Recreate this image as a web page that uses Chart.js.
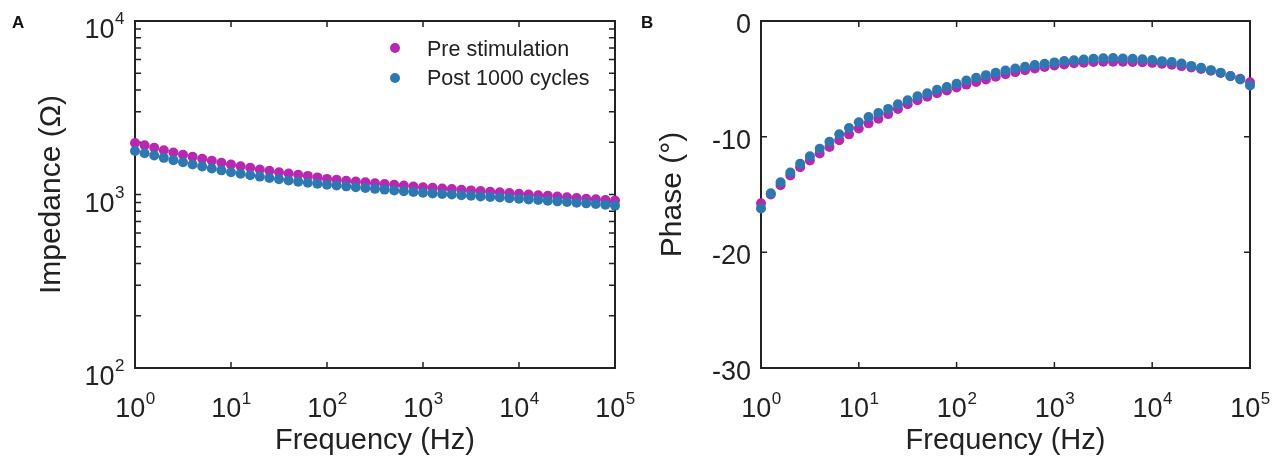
<!DOCTYPE html>
<html>
<head>
<meta charset="utf-8">
<script src="https://cdn.jsdelivr.net/npm/chart.js@4.4.0/dist/chart.umd.min.js"></script>
<style>
  body { margin: 0; background: #fff; font-family: "Liberation Sans", Arial, sans-serif; }
  #wrap { position: relative; width: 1274px; height: 470px; overflow: hidden; }
  .panel { position: absolute; top: 0; height: 470px; }
  .tag { position: absolute; font-weight: bold; font-size: 17px; color: #111; }
  .leg { position: absolute; font-size: 21.5px; color: #222; line-height: 24px; }
  .dot { position: absolute; width: 10px; height: 10px; border-radius: 50%; }
</style>
</head>
<body>
<div id="wrap">
  <div class="panel" style="left:0;width:640px"><canvas id="impChart" width="640" height="470"></canvas></div>
  <div class="panel" style="left:640px;width:634px"><canvas id="phaseChart" width="634" height="470"></canvas></div>
  <div class="tag" style="left:12px;top:13px">A</div>
  <div class="tag" style="left:641px;top:13px">B</div>
  <div class="dot" style="left:390px;top:43px;background:#B927B1"></div>
  <div class="leg" style="left:427px;top:37px">Pre stimulation</div>
  <div class="dot" style="left:390px;top:73px;background:#2E78B2"></div>
  <div class="leg" style="left:427px;top:66px">Post 1000 cycles</div>
</div>
<script>
const freq = [1, 1.259, 1.585, 1.995, 2.512, 3.162, 3.981, 5.012, 6.31, 7.943,
  10, 12.59, 15.85, 19.95, 25.12, 31.62, 39.81, 50.12, 63.1, 79.43,
  100, 125.9, 158.5, 199.5, 251.2, 316.2, 398.1, 501.2, 631, 794.3,
  1000, 1259, 1585, 1995, 2512, 3162, 3981, 5012, 6310, 7943,
  10000, 12589, 15849, 19953, 25119, 31623, 39811, 50119, 63096, 79433, 100000];

const impPre = [1980, 1920, 1860, 1800, 1745, 1695, 1650, 1605, 1565, 1525,
  1490, 1455, 1425, 1395, 1370, 1345, 1320, 1300, 1280, 1255,
  1230, 1215, 1200, 1188, 1175, 1162, 1150, 1138, 1126, 1113,
  1100, 1092, 1083, 1074, 1065, 1056, 1047, 1038, 1029, 1020,
  1010, 1000, 991, 982, 973, 964, 955, 946, 938, 930, 923];

const impPost = [1780, 1728, 1676, 1626, 1578, 1533, 1490, 1450, 1413, 1378,
  1345, 1318, 1292, 1268, 1245, 1224, 1204, 1186, 1170, 1155,
  1140, 1127, 1114, 1102, 1090, 1078, 1067, 1056, 1045, 1034,
  1023, 1015, 1007, 999, 991, 983, 975, 968, 960, 952,
  945, 937, 929, 921, 913, 905, 897, 889, 881, 872, 863];

const phasePre = [-15.75, -15.0, -14.2, -13.35, -12.65, -12.05, -11.45, -10.9, -10.3, -9.8,
  -9.3, -8.85, -8.45, -8.05, -7.6, -7.2, -6.85, -6.55, -6.25, -6.0,
  -5.75, -5.5, -5.27, -5.05, -4.82, -4.6, -4.42, -4.25, -4.1, -3.97,
  -3.85, -3.75, -3.66, -3.6, -3.55, -3.52, -3.52, -3.53, -3.55, -3.57,
  -3.62, -3.7, -3.78, -3.9, -4.02, -4.15, -4.3, -4.5, -4.75, -5.0, -5.3];

const phasePost = [-16.2, -14.9, -13.95, -13.1, -12.35, -11.7, -11.05, -10.45, -9.8, -9.25,
  -8.75, -8.3, -7.95, -7.6, -7.2, -6.85, -6.5, -6.25, -5.95, -5.7,
  -5.42, -5.15, -4.9, -4.68, -4.47, -4.28, -4.1, -3.95, -3.8, -3.7,
  -3.58, -3.46, -3.4, -3.33, -3.27, -3.23, -3.2, -3.24, -3.27, -3.3,
  -3.37, -3.47, -3.55, -3.68, -3.88, -4.05, -4.25, -4.48, -4.77, -5.06, -5.58];

const freqTicks = [1, 10, 100, 1000, 10000, 100000];
const freqTickExp = ['0', '1', '2', '3', '4', '5'];
const impTicks = [100, 1000, 10000];
const impTickExp = ['2', '3', '4'];
const impMinorTicks = [200, 300, 400, 500, 600, 700, 800, 900, 2000, 3000, 4000, 5000, 6000, 7000, 8000, 9000];
const phaseTicks = [-30, -20, -10, 0];
const phaseTickLabels = ['-30', '-20', '-10', '0'];

const PINK = '#B927B1';
const BLUE = '#2E78B2';
const INK = '#222';
const FONT = '"Liberation Sans", Arial, sans-serif';
const BASE_FONT = '27px ' + FONT;
const SUP_FONT = '17px ' + FONT;

// "10" with a raised exponent
function drawPow(ctx, exp, x, baseY, supY, align) {
  ctx.font = BASE_FONT;
  const wb = ctx.measureText('10').width;
  ctx.font = SUP_FONT;
  const we = ctx.measureText(exp).width;
  const left = align === 'center' ? x - (wb + we) / 2 : x - wb - we;
  ctx.font = BASE_FONT;
  ctx.fillText('10', left, baseY);
  ctx.font = SUP_FONT;
  ctx.fillText(exp, left + wb + 0.5, supY);
}

// box round the plot + inward tick marks (under the points), tick labels after
const framePlugin = {
  id: 'frame',
  beforeDatasetsDraw(chart, args, opts) {
    const { ctx, chartArea: a, scales: { x, y } } = chart;
    const len = 6;
    ctx.save();
    ctx.strokeStyle = INK;
    ctx.lineWidth = 1.5;
    ctx.beginPath();
    opts.xTicks.forEach(v => {
      const px = x.getPixelForValue(v);
      ctx.moveTo(px, a.bottom); ctx.lineTo(px, a.bottom - len);
      ctx.moveTo(px, a.top); ctx.lineTo(px, a.top + len);
    });
    opts.yTicks.forEach(v => {
      const py = y.getPixelForValue(v);
      ctx.moveTo(a.left, py); ctx.lineTo(a.left + len, py);
      ctx.moveTo(a.right, py); ctx.lineTo(a.right - len, py);
    });
    ctx.stroke();
    ctx.lineWidth = 2;
    ctx.strokeRect(a.left, a.top, a.right - a.left, a.bottom - a.top);
    ctx.restore();
  },
  afterDraw(chart, args, opts) {
    const { ctx, chartArea: a, scales: { x, y } } = chart;
    ctx.save();
    ctx.fillStyle = INK;
    ctx.textBaseline = 'alphabetic';
    ctx.textAlign = 'left';
    freqTicks.forEach((v, i) => {
      drawPow(ctx, freqTickExp[i], x.getPixelForValue(v), a.bottom + 49, a.bottom + 36, 'center');
    });
    if (opts.logY) {
      impTicks.forEach((v, i) => {
        const py = y.getPixelForValue(v);
        drawPow(ctx, impTickExp[i], a.left - 11, py + 17, py + 3, 'right');
      });
    } else {
      ctx.font = BASE_FONT;
      ctx.textAlign = 'right';
      phaseTicks.forEach((v, i) => {
        ctx.fillText(phaseTickLabels[i], a.left - 10, y.getPixelForValue(v) + 12);
      });
    }
    ctx.restore();
  }
};

function pts(ys) {
  return freq.map((f, i) => ({ x: f, y: ys[i] }));
}

function dataset(label, ys, color, order) {
  return {
    label: label,
    data: pts(ys),
    backgroundColor: color,
    borderColor: color,
    pointRadius: 5,
    pointBorderWidth: 0,
    showLine: false,
    clip: false,
    order: order
  };
}

function xAxis() {
  return {
    type: 'logarithmic',
    min: 1,
    max: 100000,
    afterFit: s => { s.height = 102; },
    grid: { display: false, drawTicks: false },
    border: { display: false },
    ticks: { display: false },
    title: {
      display: true,
      text: 'Frequency (Hz)',
      color: INK,
      font: { family: FONT, size: 29 },
      padding: { top: 0, bottom: 12 }
    }
  };
}

function yTitle(text, pad) {
  return {
    display: true,
    text: text,
    color: INK,
    font: { family: FONT, size: 30 },
    padding: { top: pad, bottom: 0 }
  };
}

new Chart(document.getElementById('impChart'), {
  type: 'scatter',
  data: {
    datasets: [
      dataset('Pre stimulation', impPre, PINK, 1),
      dataset('Post 1000 cycles', impPost, BLUE, 0)
    ]
  },
  options: {
    responsive: false,
    animation: false,
    layout: { padding: { top: 21, right: 25, left: 0, bottom: 0 } },
    plugins: {
      legend: { display: false },
      tooltip: { enabled: false },
      frame: { xTicks: freqTicks, yTicks: impTicks.concat(impMinorTicks), logY: true }
    },
    scales: {
      x: xAxis(),
      y: {
        type: 'logarithmic',
        min: 100,
        max: 10000,
        afterFit: s => { s.width = 135; },
        grid: { display: false, drawTicks: false },
        border: { display: false },
        ticks: { display: false },
        title: yTitle('Impedance (Ω)', 34)
      }
    }
  },
  plugins: [framePlugin]
});

new Chart(document.getElementById('phaseChart'), {
  type: 'scatter',
  data: {
    datasets: [
      dataset('Pre stimulation', phasePre, PINK, 1),
      dataset('Post 1000 cycles', phasePost, BLUE, 0)
    ]
  },
  options: {
    responsive: false,
    animation: false,
    layout: { padding: { top: 21, right: 24, left: 0, bottom: 0 } },
    plugins: {
      legend: { display: false },
      tooltip: { enabled: false },
      frame: { xTicks: freqTicks, yTicks: phaseTicks, logY: false }
    },
    scales: {
      x: xAxis(),
      y: {
        type: 'linear',
        min: -30,
        max: 0,
        afterFit: s => { s.width = 121; },
        grid: { display: false, drawTicks: false },
        border: { display: false },
        ticks: { display: false },
        title: yTitle('Phase (°)', 15)
      }
    }
  },
  plugins: [framePlugin]
});
</script>
</body>
</html>
